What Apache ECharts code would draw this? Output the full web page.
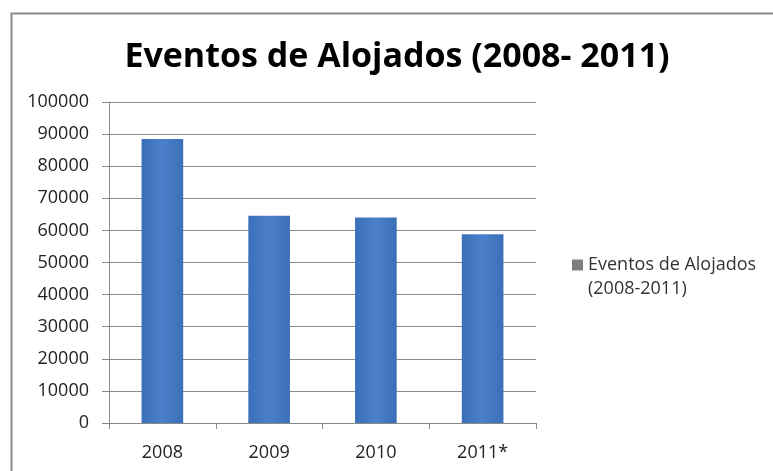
<!DOCTYPE html>
<html><head><meta charset="utf-8">
<script src="https://cdn.jsdelivr.net/npm/echarts@6/dist/echarts.min.js"></script>
<style>html,body{margin:0;padding:0;background:#fff}#c{width:773px;height:471px}</style>
</head><body><div id="c"></div>
<script>
const categories = ['2008', '2009', '2010', '2011*'];
const values = [88500, 64600, 64000, 58800];
const seriesName = 'Eventos de Alojados\n(2008-2011)';
const titleText = 'Eventos de Alojados (2008- 2011)';

const chart = echarts.init(document.getElementById('c'));
const font = 'Open Sans';
chart.setOption({
  backgroundColor: '#fff',
  animation: false,
  graphic: [{
    type: 'rect', left: 9, top: 11, shape: {width: 800, height: 500},
    style: {fill: 'none', stroke: '#8a8a8a', lineWidth: 2}, silent: true
  }],
  title: {
    text: titleText, left: 392, top: 35, textAlign: 'center',
    textStyle: {fontFamily: font, fontWeight: 'bold', fontSize: 34, color: '#000'}
  },
  legend: {
    data: [{name: seriesName, itemStyle: {color: '#7f7f7f'}}],
    formatter: function (n) { return ' \n' + n; },
    left: 567, top: 224, orient: 'vertical', icon: 'rect',
    itemWidth: 11, itemHeight: 11, itemGap: 4,
    textStyle: {fontFamily: font, fontSize: 18, color: '#333', lineHeight: 24}
  },
  grid: {left: 109, right: 237, top: 102, bottom: 48},
  xAxis: {
    type: 'category', data: categories,
    axisLine: {lineStyle: {color: '#888', width: 1}},
    axisTick: {show: true, length: 6, lineStyle: {color: '#888'}},
    axisLabel: {fontFamily: font, fontSize: 18, color: '#222', margin: 21}
  },
  yAxis: {
    type: 'value', min: 0, max: 100000, interval: 10000,
    axisLine: {show: true, lineStyle: {color: '#888'}},
    axisTick: {show: true, length: 7, inside: false, lineStyle: {color: '#888'}},
    axisLabel: {fontFamily: font, fontSize: 18, color: '#222', margin: 20,
      formatter: function (v) { return String(v); }},
    splitLine: {lineStyle: {color: '#8c8c8c', width: 1}}
  },
  series: [{
    name: seriesName, type: 'bar', data: values, barWidth: '39%',
    itemStyle: {color: new echarts.graphic.LinearGradient(0, 0, 1, 0, [
      {offset: 0, color: '#3b6fb8'}, {offset: 0.5, color: '#4b80ca'}, {offset: 1, color: '#3b6fb8'}])}
  }]
});
</script></body></html>
